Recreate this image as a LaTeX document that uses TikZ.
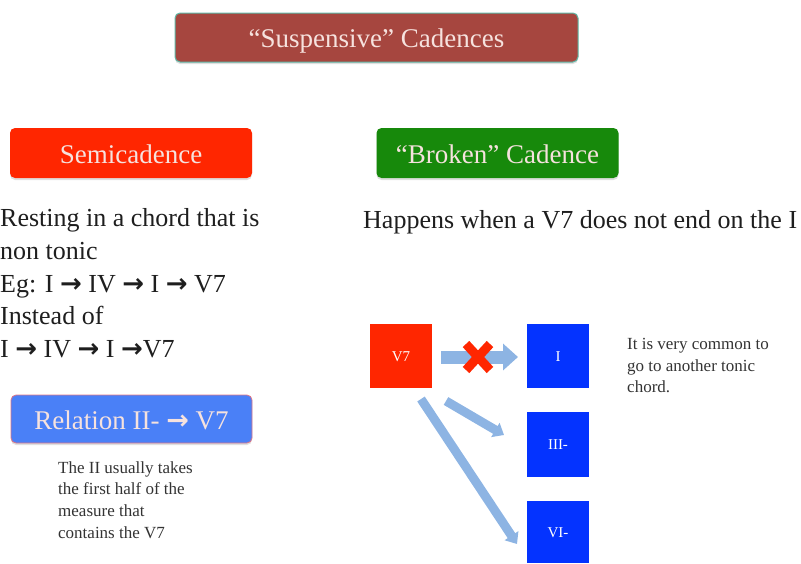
\documentclass[tikz,border=0pt]{standalone}
\usepackage{fontspec}
\setmainfont{Liberation Serif}
\newfontfamily\arrfont{DejaVu Sans}
\usetikzlibrary{arrows.meta,shadows}
\newcommand{\rarr}{{\arrfont\bfseries →}}
\definecolor{titlered}{HTML}{A6463F}
\definecolor{titleedge}{HTML}{5FB8A6}
\definecolor{lighttext}{HTML}{F6E2DE}
\definecolor{semired}{HTML}{FF2600}
\definecolor{brgreen}{HTML}{17890B}
\definecolor{relblue}{HTML}{4A80F7}
\definecolor{reledge}{HTML}{E07585}
\definecolor{chordblue}{HTML}{0433FF}
\definecolor{arrblue}{HTML}{8DB4E3}
\definecolor{bodytext}{HTML}{1E1E1E}
\definecolor{smalltext}{HTML}{333333}
\begin{document}
\begin{tikzpicture}[x=1pt,y=-1pt,
  header/.style={rounded corners=5pt, inner sep=0pt, minimum width=242pt, minimum height=50pt,
    font=\fontsize{27}{27}\selectfont, text=lighttext, text height=23pt, text depth=3pt,
    drop shadow={shadow xshift=0pt, shadow yshift=-2pt, opacity=0.25}},
  chord/.style={inner sep=0pt, minimum width=62pt, minimum height=64pt,
    font=\fontsize{15}{15}\selectfont, text=white, text height=10pt, text depth=0pt},
  bodyline/.style={inner sep=0pt, anchor=base west, font=\fontsize{26}{32}\selectfont, text=bodytext},
  smallline/.style={inner sep=0pt, anchor=base west, font=\fontsize{17}{21}\selectfont, text=smalltext},
  bigarrow/.style={draw=arrblue, line width=13pt, -{Triangle[length=15pt,width=26pt]}},
  thinarrow/.style={draw=arrblue, line width=9pt, -{Triangle[length=10pt,width=16pt]}}
]
\useasboundingbox (0,0) rectangle (801,563);

% headers
\node[header, fill=titlered, draw=titleedge, line width=1pt, minimum width=403pt, minimum height=49pt] (title) at (376.5,37.5) {“Suspensive” Cadences};
\node[header, fill=semired] (semi) at (131,153) {Semicadence};
\node[header, fill=brgreen] (broken) at (497.5,153) {“Broken” Cadence};
\node[header, fill=relblue, draw=reledge, line width=0.8pt, minimum width=241pt, minimum height=48pt] (rel) at (131.5,419) {Relation II- \rarr{} V7};

% left text
\node[bodyline] (l1) at (0,226) {Resting in a chord that is};
\node[bodyline] (l2) at (0,259) {non tonic};
\node[bodyline] (l3) at (0,292) {Eg: I \rarr{} IV \rarr{} I \rarr{} V7};
\node[bodyline] (l4) at (0,324.5) {Instead of};
\node[bodyline] (l5) at (0,357) {I \rarr{} IV \rarr{} I \rarr{}V7};

\node[smallline] (s1) at (58,473) {The II usually takes};
\node[smallline] (s2) at (58,494.5) {the first half of the};
\node[smallline] (s3) at (58,516.5) {measure that};
\node[smallline] (s4) at (58,538) {contains the V7};

% right text
\node[bodyline] (happ) at (363,228) {Happens when a V7 does not end on the I};
\node[smallline] (r1) at (627,349) {It is very common to};
\node[smallline] (r2) at (627,371) {go to another tonic};
\node[smallline] (r3) at (627,392) {chord.};

% chord boxes
\node[chord, fill=semired] (v7) at (401,356) {V7};
\node[chord, fill=chordblue] (one) at (558,356) {I};
\node[chord, fill=chordblue, minimum height=65pt] (three) at (558,444.5) {III-};
\node[chord, fill=chordblue, minimum height=62pt] (six) at (558,532) {VI-};

% arrows
\coordinate (a1s) at (441,357);
\coordinate (a1e) at (518,357);
\coordinate (a2s) at (446,401);
\coordinate (a2e) at (504,435);
\coordinate (a3s) at (421,399);
\coordinate (a3e) at (517,544);
\draw[bigarrow] (a1s) -- (a1e);
\draw[thinarrow] (a2s) -- (a2e);
\draw[thinarrow] (a3s) -- (a3e);

% red cross
\coordinate (xc) at (478,357);
\draw[semired, line width=9pt] (xc) ++(-12,-13) -- ++(24,26);
\draw[semired, line width=9pt] (xc) ++(12,-13) -- ++(-24,26);
\end{tikzpicture}
\end{document}
